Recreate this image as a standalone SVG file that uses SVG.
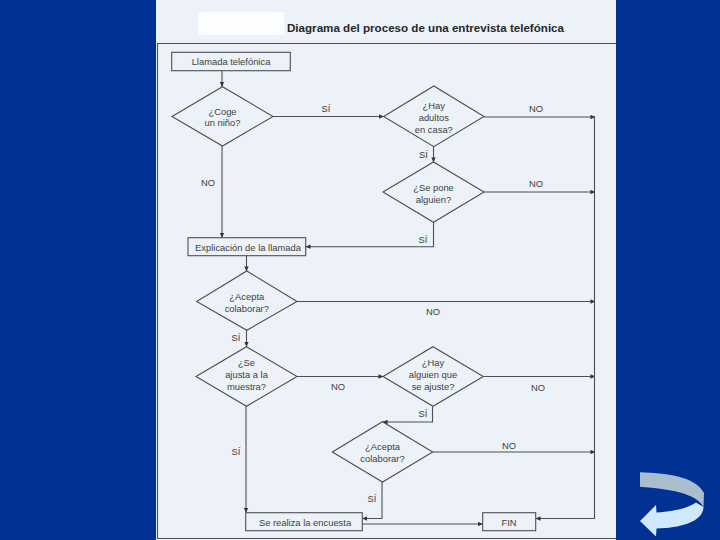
<svg xmlns="http://www.w3.org/2000/svg" width="720" height="540" viewBox="0 0 720 540">
<style>
.s{fill:none;stroke:#4c5053;stroke-width:1.1}
.b{fill:#ecf2f7;stroke:#4c5053;stroke-width:1.1}
text{font-family:"Liberation Sans",Arial,sans-serif;font-size:9.4px;fill:#3c3f42;text-anchor:middle}
.t{font-size:11px;font-weight:bold;fill:#26282a;text-anchor:start}
</style>
<defs>
<marker id="a" viewBox="0 0 6 6" refX="5.5" refY="3" markerWidth="5" markerHeight="5" markerUnits="userSpaceOnUse" orient="auto"><path d="M0 0.4L6 3L0 5.6z" fill="#33363a"/></marker>
</defs>
<rect width="720" height="540" fill="#023194"/>
<rect x="156" y="0" width="460" height="540" fill="#ecf2f7"/>
<rect x="198" y="12" width="86" height="23" fill="#fcfdfe"/>
<text class="t" x="287" y="32" textLength="277" lengthAdjust="spacingAndGlyphs">Diagrama del proceso de una entrevista telefónica</text>
<path d="M157.500 539V43.500H616M157 538.500H616" class="s"/>
<g id="connectors" class="s">
<path d="M222 70.700V86.500" marker-end="url(#a)"/>
<path d="M273 116.500H383.500" marker-end="url(#a)"/>
<path d="M222 146V237.500" marker-end="url(#a)"/>
<path d="M484 117H595" marker-end="url(#a)"/>
<path d="M433.500 146.700V162" marker-end="url(#a)"/>
<path d="M484 192H595" marker-end="url(#a)"/>
<path d="M433.500 222.300V246.700H306" marker-end="url(#a)"/>
<path d="M246.500 255.700V271" marker-end="url(#a)"/>
<path d="M297 301.500H595" marker-end="url(#a)"/>
<path d="M246.500 330.300V346.500" marker-end="url(#a)"/>
<path d="M297 376.500H383" marker-end="url(#a)"/>
<path d="M483.300 376.500H595" marker-end="url(#a)"/>
<path d="M432.500 406.300V422H383" marker-end="url(#a)"/>
<path d="M432.700 452H595" marker-end="url(#a)"/>
<path d="M246 406.300V512.500" marker-end="url(#a)"/>
<path d="M382 482V518.500H362.500" marker-end="url(#a)"/>
<path d="M362.300 524H482.500" marker-end="url(#a)"/>
<path d="M594.500 116.500V518.500H536" marker-end="url(#a)"/>
</g>
<g id="n1"><rect class="b" x="171.700" y="52.300" width="118.600" height="18.400"/><text x="231" y="64.500">Llamada telefónica</text></g>
<g id="n2"><path class="b" d="M172 116.500L222.500 86.700L273 116.500L222.500 146z"/><text x="222.500" y="114.500">¿Coge</text><text x="222.500" y="126">un niño?</text></g>
<g id="n3"><path class="b" d="M383.700 116.500L433.800 86L484 116.500L433.800 146.700z"/><text x="433.800" y="109">¿Hay</text><text x="433.800" y="121">adultos</text><text x="433.800" y="133">en casa?</text></g>
<g id="n4"><path class="b" d="M383 192L433.500 162L484 192L433.500 222.300z"/><text x="433.500" y="190.500">¿Se pone</text><text x="433.500" y="202.500">alguien?</text></g>
<g id="n5"><rect class="b" x="188" y="237.700" width="117.700" height="18"/><text x="248" y="251">Explicación de la llamada</text></g>
<g id="n6"><path class="b" d="M196.700 301.500L246.800 271L297 301.500L246.800 330.300z"/><text x="246.800" y="299.500">¿Acepta</text><text x="246.800" y="311.500">colaborar?</text></g>
<g id="n7"><path class="b" d="M196 376.500L246.500 346.700L297 376.500L246.500 406.300z"/><text x="246.500" y="366">¿Se</text><text x="246.500" y="378">ajusta a la</text><text x="246.500" y="390">muestra?</text></g>
<g id="n8"><path class="b" d="M383 376.500L433 346.700L483.300 376.500L433 406.300z"/><text x="433" y="366">¿Hay</text><text x="433" y="378">alguien que</text><text x="433" y="390">se ajuste?</text></g>
<g id="n9"><path class="b" d="M332.300 452L382.500 421.700L432.700 452L382.500 482z"/><text x="382.500" y="450">¿Acepta</text><text x="382.500" y="462">colaborar?</text></g>
<g id="n10"><rect class="b" x="245.700" y="512.700" width="116.600" height="18"/><text x="305" y="526">Se realiza la encuesta</text></g>
<g id="n11"><rect class="b" x="482.700" y="512.700" width="53" height="18"/><text x="509" y="526">FIN</text></g>
<g id="labels">
<text x="326" y="112">SÍ</text><text x="536" y="112">NO</text><text x="208" y="186">NO</text>
<text x="423.500" y="158">SÍ</text><text x="536" y="187">NO</text><text x="423" y="243">SÍ</text>
<text x="433" y="315">NO</text><text x="236" y="340.500">SÍ</text>
<text x="338" y="390">NO</text><text x="538" y="391">NO</text><text x="423" y="417">SÍ</text>
<text x="509" y="449">NO</text><text x="372" y="502">SÍ</text><text x="236" y="455">SÍ</text>
</g>
<path d="M640 472.300C665 473 695 476 704 493L703.500 507C699 499 688 490 640 486.700z" fill="#a9bfcd"/>
<path d="M696 502.500C690 507 678 511 656.500 512.500L656 505L640 521L656 536.500L656.500 528.500C680 528 703 522 703.500 507z" fill="#cfe8fb"/>
</svg>
